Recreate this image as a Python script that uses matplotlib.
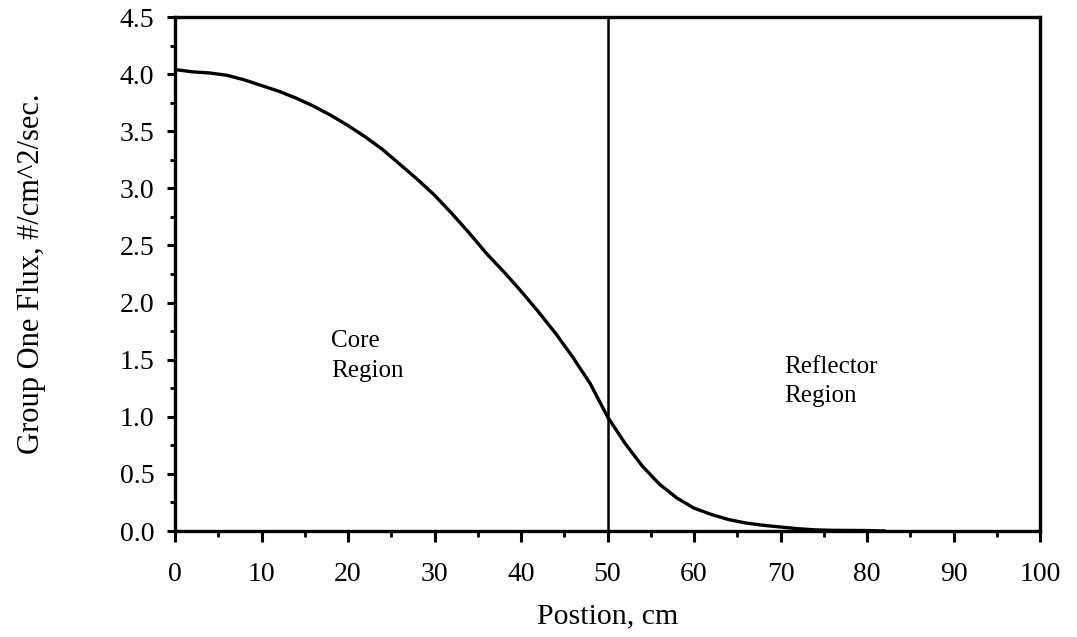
import matplotlib
matplotlib.use("Agg")
import matplotlib.pyplot as plt
from matplotlib.ticker import MultipleLocator, FormatStrFormatter

position = [0, 2, 4, 6, 8, 10, 12, 14, 16, 18, 20, 22, 24, 26, 28, 30, 32, 34, 36, 38,
            40, 42, 44, 46, 48, 50, 52, 54, 56, 58, 60, 62, 64, 66, 68, 70, 72, 74, 76,
            78, 80, 82]
flux = [4.04, 4.02, 4.01, 3.99, 3.95, 3.90, 3.85, 3.79, 3.72, 3.64, 3.55, 3.45, 3.34,
        3.21, 3.08, 2.94, 2.78, 2.61, 2.43, 2.27, 2.10, 1.92, 1.73, 1.52, 1.29, 1.00,
        0.77, 0.57, 0.41, 0.29, 0.20, 0.145, 0.10, 0.07, 0.05, 0.035, 0.02, 0.01, 0.006,
        0.005, 0.004, 0.0]
boundary = 50
x_ticks = [0, 10, 20, 30, 40, 50, 60, 70, 80, 90, 100]
y_ticks = [0.0, 0.5, 1.0, 1.5, 2.0, 2.5, 3.0, 3.5, 4.0, 4.5]

plt.rcParams['font.family'] = ['Liberation Serif', 'DejaVu Serif']

fig = plt.figure(figsize=(10.77, 6.37), dpi=100)
ax = fig.add_axes([0.1625, 0.1664, 0.8032, 0.8069])

ax.plot(position, flux, color='black', lw=2.4, solid_joinstyle='round')
ax.axvline(boundary, color='black', lw=1.8)

ax.set_xlim(0, 100)
ax.set_ylim(0, 4.5)
ax.set_xticks(x_ticks)
ax.set_yticks(y_ticks)
ax.xaxis.set_minor_locator(MultipleLocator(5))
ax.yaxis.set_minor_locator(MultipleLocator(0.25))
ax.yaxis.set_major_formatter(FormatStrFormatter('%.1f'))

for s in ax.spines.values():
    s.set_linewidth(2.4)

ax.tick_params(axis='both', which='major', labelsize=20, width=2.2, color='black',
               direction='out')
ax.tick_params(axis='x', which='major', length=8, pad=14)
ax.tick_params(axis='y', which='major', length=6, pad=9)
ax.tick_params(axis='x', which='minor', length=4, width=2)
ax.tick_params(axis='y', which='minor', length=3.5, width=2)

ax.set_xlabel('Postion, cm', fontsize=21.5, labelpad=12)
ax.set_ylabel('Group One Flux, #/cm^2/sec.', fontsize=22, labelpad=53)

ax.text(18, 1.53, 'Core\nRegion', fontsize=18, ha='left', va='center',
        linespacing=1.45)
ax.text(70.4, 1.31, 'Reflector\nRegion', fontsize=18, ha='left', va='center',
        linespacing=1.45)

fig.savefig('out.png', dpi=100)
